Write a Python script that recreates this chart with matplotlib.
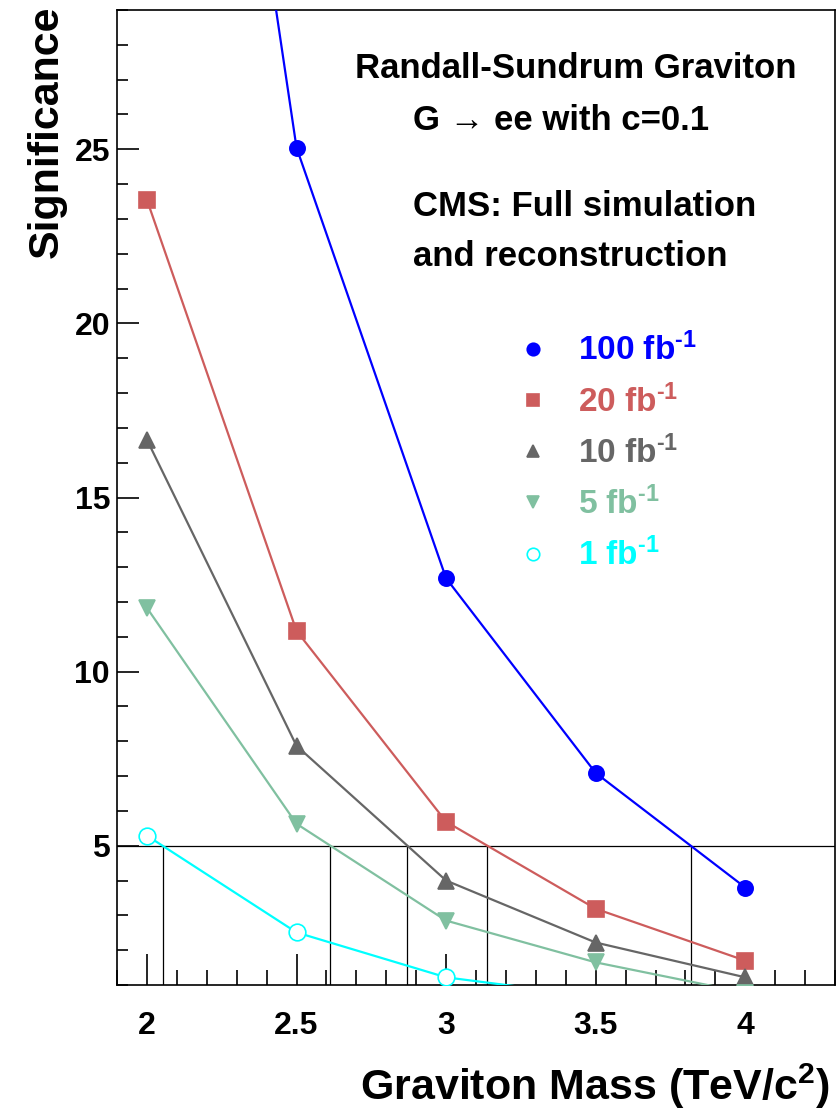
import numpy as np
import matplotlib
matplotlib.use("Agg")
import matplotlib.pyplot as plt
from matplotlib.ticker import MultipleLocator
from matplotlib.lines import Line2D

plt.rcParams['font.family'] = ['Liberation Sans', 'DejaVu Sans']
plt.rcParams['font.weight'] = 'bold'
plt.rcParams['mathtext.fontset'] = 'custom'
plt.rcParams['mathtext.rm'] = 'Liberation Sans:bold'
plt.rcParams['mathtext.bf'] = 'Liberation Sans:bold'
plt.rcParams['mathtext.default'] = 'bf'

# Data
mass = [2.0, 2.5, 3.0, 3.5, 4.0]
sig_100 = [54.0, 25.05, 12.68, 7.09, 3.80]
sig_20 = [23.55, 11.17, 5.69, 3.19, 1.70]
sig_10 = [16.66, 7.87, 4.00, 2.22, 1.22]
sig_5 = [11.83, 5.63, 2.85, 1.65, 0.78]
sig_1 = [5.29, 2.51, 1.22, 0.67, 0.30]

labels = ["100 fb$^{\\text{-1}}$", "20 fb$^{\\text{-1}}$", "10 fb$^{\\text{-1}}$",
          "5 fb$^{\\text{-1}}$", "1 fb$^{\\text{-1}}$"]
colors = ["#0000ff", "#cd5c5c", "#666666", "#80c0a0", "#00ffff"]
markers = ["o", "s", "^", "v", "o"]
filled = [True, True, True, True, False]
series = [sig_100, sig_20, sig_10, sig_5, sig_1]
threshold = 5.0

fig = plt.figure(figsize=(8.38, 11.13), dpi=100)
ax = fig.add_axes([117/838, 1 - 985/1113, (835-117)/838, (985-10)/1113])
ax.set_xlim(1.9, 4.3)
ax.set_ylim(1.0, 29.0)

handles = []
for y, c, m, f, lab in zip(series, colors, markers, filled, labels):
    ax.plot(mass, y, color=c, lw=1.6, zorder=3, clip_on=True)
    ax.plot(mass, y, linestyle='none', marker=m, ms=11 if m != 'o' or f else 12,
            markerfacecolor=c if f else 'white', markeredgecolor=c,
            markeredgewidth=1.2, zorder=4, clip_on=True)
    handles.append(Line2D([], [], linestyle='none', marker=m, ms=9,
                          markerfacecolor=c if f else 'white', markeredgecolor=c,
                          markeredgewidth=1.2, label=lab))

# 5 sigma line and crossings (linear interpolation of the data)
ax.axhline(threshold, color='black', lw=0.9, zorder=2)
for y in series:
    for i in range(len(mass) - 1):
        if y[i] >= threshold > y[i+1]:
            xc = mass[i] + (y[i] - threshold) / (y[i] - y[i+1]) * (mass[i+1] - mass[i])
            ax.plot([xc, xc], [1.0, threshold], color='black', lw=0.9, zorder=2)
            break

ax.xaxis.set_major_locator(MultipleLocator(0.5))
ax.xaxis.set_minor_locator(MultipleLocator(0.1))
ax.yaxis.set_major_locator(MultipleLocator(5))
ax.yaxis.set_minor_locator(MultipleLocator(1))
ax.tick_params(axis='x', which='major', direction='in', length=22, width=1.2, pad=19, labelsize=23)
ax.tick_params(axis='x', which='minor', direction='in', length=11, width=1.2)
ax.tick_params(axis='y', which='major', direction='in', length=16, width=1.2, pad=5, labelsize=23)
ax.tick_params(axis='y', which='minor', direction='in', length=8, width=1.2)
ax.set_xticks([2, 2.5, 3, 3.5, 4])
ax.set_xticklabels(['2', '2.5', '3', '3.5', '4'])
ax.set_yticks([5, 10, 15, 20, 25])
ax.set_yticklabels(['5', '10', '15', '20', '25'])
for lab in ax.get_xticklabels() + ax.get_yticklabels():
    lab.set_fontweight('bold')
for s in ax.spines.values():
    s.set_linewidth(1.2)

fig.text(830/838, 1 - 1086/1113, "Graviton Mass (TeV/c$^2$)", ha='right', va='center',
         fontsize=31, fontweight='bold')
fig.text(47/838, 1 - 5/1113, "Significance", rotation=90, ha='center', va='top',
         fontsize=31, fontweight='bold')

tx = lambda px, py, s: fig.text(px/838, 1 - py/1113, s, ha='left', va='center',
                                 fontsize=25, fontweight='bold')
tx(355, 68, "Randall-Sundrum Graviton")
tx(413, 121, "G \u2192 ee with c=0.1")
tx(413, 207, "CMS: Full simulation")
tx(413, 257, "and reconstruction")

leg = ax.legend(handles=handles, loc='upper left',
                bbox_to_anchor=((516-117)/718, 1 - (333-10)/975),
                frameon=False, fontsize=24, labelspacing=0.5, handletextpad=0.85,
                labelcolor='markeredgecolor', handlelength=1.0,
                borderpad=0, borderaxespad=0)
for t in leg.get_texts():
    t.set_fontweight('bold')

fig.savefig("out.png", dpi=100)
